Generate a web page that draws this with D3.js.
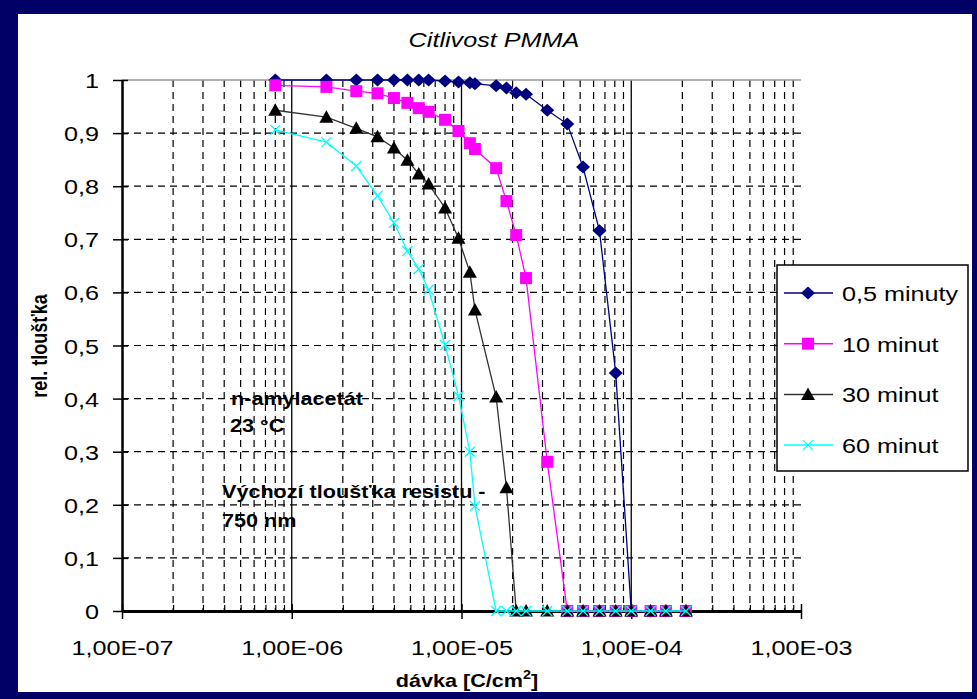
<html>
<head>
<script src="https://cdnjs.cloudflare.com/ajax/libs/d3/7.8.5/d3.min.js"></script>
<style>
    body { margin: 0; background: #000066; }
    svg text { font-family: "Liberation Sans", Arial, sans-serif; fill: #000; }
    .grid line { stroke: #000; stroke-width: 1.2; stroke-dasharray: 7,5; }
    .decade line { stroke: #000; stroke-width: 1.3; }
</style>
</head>
<body>
<svg id="chart" width="977" height="699"></svg>
<script>
// doses [C/cm2], shared by all four series
var doses = [8e-7, 1.6e-6, 2.4e-6, 3.2e-6, 4e-6, 4.8e-6, 5.6e-6, 6.4e-6, 8e-6, 9.6e-6,
             1.12e-5, 1.2e-5, 1.6e-5, 1.84e-5, 2.1e-5, 2.4e-5, 3.2e-5, 4.2e-5, 5.2e-5, 6.5e-5,
             8.1e-5, 1e-4, 1.3e-4, 1.6e-4, 2.1e-4];
var min05 = [1, 1, 1, 1, 1, 1, 1, 1, 0.998, 0.996, 0.995, 0.993, 0.989, 0.985, 0.976, 0.973,
             0.943, 0.917, 0.836, 0.716, 0.448, 0, 0, 0, 0];
var min10 = [0.99, 0.987, 0.979, 0.975, 0.966, 0.957, 0.947, 0.94, 0.925, 0.904, 0.881, 0.87,
             0.834, 0.772, 0.708, 0.627, 0.281, 0, 0, 0, 0, 0, 0, 0, 0];
var min30 = [0.943, 0.93, 0.909, 0.893, 0.872, 0.849, 0.823, 0.804, 0.759, 0.702, 0.638, 0.567,
             0.403, 0.232, 0, 0, 0, 0, 0, 0, 0, 0, 0, 0, 0];
var min60 = [0.906, 0.883, 0.838, 0.782, 0.731, 0.678, 0.644, 0.605, 0.501, 0.405, 0.3, 0.198,
             0, 0, 0, 0, 0, 0, 0, 0, 0, 0, 0, 0, 0];

var seriesNames = ["0,5 minuty", "10 minut", "30 minut", "60 minut"];
var xTicks = [1e-7, 1e-6, 1e-5, 1e-4, 1e-3];
var xTickLabels = ["1,00E-07", "1,00E-06", "1,00E-05", "1,00E-04", "1,00E-03"];
var yTicks = [0, 0.1, 0.2, 0.3, 0.4, 0.5, 0.6, 0.7, 0.8, 0.9, 1];
var yTickLabels = ["0", "0,1", "0,2", "0,3", "0,4", "0,5", "0,6", "0,7", "0,8", "0,9", "1"];

var svg = d3.select("#chart");
var sx = 1.2; // picture is stretched sideways

svg.append("rect").attr("width", 977).attr("height", 699).attr("fill", "#000066");
svg.append("rect").attr("x", 18).attr("y", 14).attr("width", 954).attr("height", 678).attr("fill", "#fff");

var x = d3.scaleLog().domain([1e-7, 1e-3]).range([122, 801]);
var y = d3.scaleLinear().domain([0, 1]).range([611, 80]);

var minor = [];
[-7, -6, -5, -4].forEach(function(e) {
    for (var m = 2; m <= 9; m++) minor.push(m * Math.pow(10, e));
});

// gridlines
svg.append("g").attr("class", "grid")
    .selectAll("line").data(minor).enter().append("line")
    .attr("x1", d => x(d)).attr("x2", d => x(d))
    .attr("y1", y(1)).attr("y2", y(0));
svg.append("g").attr("class", "grid")
    .selectAll("line").data(yTicks.slice(1, 10)).enter().append("line")
    .attr("x1", x(1e-7)).attr("x2", x(1e-3))
    .attr("y1", d => y(d)).attr("y2", d => y(d));
svg.append("g").attr("class", "decade")
    .selectAll("line").data([1e-6, 1e-5, 1e-4]).enter().append("line")
    .attr("x1", d => x(d)).attr("x2", d => x(d))
    .attr("y1", y(1)).attr("y2", y(0));
svg.append("line").attr("x1", x(1e-7)).attr("x2", x(1e-3))
    .attr("y1", y(1)).attr("y2", y(1)).attr("stroke", "#999").attr("stroke-width", 1.5);

// y axis
var yAxis = svg.append("g").attr("transform", "translate(122,0)")
    .call(d3.axisLeft(y).tickValues(yTicks).tickFormat((d, i) => yTickLabels[i]).tickSize(9).tickSizeOuter(0));
yAxis.select(".domain").attr("stroke-width", 2.5);
yAxis.selectAll(".tick line").attr("x1", 6).attr("stroke-width", 1.5);
yAxis.selectAll(".tick text").attr("x", 0).attr("dy", "0.36em")
    .attr("transform", "translate(-23,0) scale(" + sx + ",1)")
    .style("font-size", "21px");

// x axis
var xAxis = svg.append("g").attr("transform", "translate(0,611)")
    .call(d3.axisBottom(x).tickValues(xTicks).tickFormat((d, i) => xTickLabels[i]).tickSize(8).tickSizeOuter(0));
xAxis.select(".domain").attr("stroke-width", 3);
xAxis.selectAll(".tick line").attr("y1", -7).attr("stroke-width", 1.5);
xAxis.selectAll(".tick text").attr("y", 0).attr("dy", 0)
    .attr("transform", "translate(0,44) scale(" + sx + ",1)")
    .style("font-size", "21px");
var xMinor = svg.append("g").attr("transform", "translate(0,611)")
    .call(d3.axisTop(x).tickValues(minor).tickFormat("").tickSize(6).tickSizeOuter(0));
xMinor.select(".domain").remove();
xMinor.selectAll(".tick line").attr("stroke-width", 1.2);

// series
var markers = [
    "M0,-6.5L7,0L0,6.5L-7,0Z",
    "M-6,-6H6V6H-6Z",
    "M0,-7L7,5.5L-7,5.5Z",
    "M-5,-5L5,5M-5,5L5,-5"
];
var series = [
    {name: seriesNames[0], values: min05, line: "#000080", fill: "#000080", marker: markers[0]},
    {name: seriesNames[1], values: min10, line: "#ff00ff", fill: "#ff00ff", marker: markers[1]},
    {name: seriesNames[2], values: min30, line: "#333333", fill: "#000000", marker: markers[2]},
    {name: seriesNames[3], values: min60, line: "#00ffff", fill: "none", marker: markers[3]}
];

var line = d3.line().x(d => x(d[0])).y(d => y(d[1]));

series.forEach(function(s) {
    var pts = doses.map((d, i) => [d, s.values[i]]);
    var g = svg.append("g");
    g.append("path").attr("d", line(pts))
        .attr("fill", "none").attr("stroke", s.line).attr("stroke-width", 1.3);
    g.selectAll("path.pt").data(pts).enter().append("path").attr("class", "pt")
        .attr("d", s.marker)
        .attr("transform", d => "translate(" + x(d[0]) + "," + y(d[1]) + ")")
        .attr("fill", s.fill)
        .attr("stroke", s.fill === "none" ? s.line : "none")
        .attr("stroke-width", 1.3);
});

// title and axis titles
svg.append("text").attr("text-anchor", "middle")
    .attr("transform", "translate(494,47) scale(" + sx + ",1)")
    .style("font-size", "21px").style("font-style", "italic")
    .text("Citlivost PMMA");

svg.append("text").attr("text-anchor", "middle")
    .attr("transform", "translate(467,687) scale(" + sx + ",1)")
    .style("font-size", "18px").style("font-weight", "bold")
    .text("dávka [C/cm")
    .append("tspan").attr("dy", -8).style("font-size", "12px").text("2")
    .select(function() { return this.parentNode; })
    .append("tspan").attr("dy", 8).text("]");

svg.append("text").attr("text-anchor", "middle")
    .attr("transform", "translate(47,346) rotate(-90) scale(1," + sx + ")")
    .style("font-size", "18px").style("font-weight", "bold")
    .text("rel. tloušťka");

// notes inside plot
var notes = [
    {t: "n-amylacetát", x: 231, y: 405},
    {t: "23 °C", x: 230, y: 432},
    {t: "Výchozí tloušťka resistu -", x: 222, y: 498},
    {t: "750 nm", x: 222, y: 527}
];
svg.append("g").selectAll("text").data(notes).enter().append("text")
    .attr("transform", d => "translate(" + d.x + "," + d.y + ") scale(" + sx + ",1)")
    .style("font-size", "18px").style("font-weight", "bold")
    .text(d => d.t);

// legend
var lg = svg.append("g");
lg.append("rect").attr("x", 777).attr("y", 265).attr("width", 191).attr("height", 206)
    .attr("fill", "#fff").attr("stroke", "#000").attr("stroke-width", 1.5);
series.forEach(function(s, i) {
    var ly = 293 + i * 50.7;
    lg.append("line").attr("x1", 784).attr("x2", 833).attr("y1", ly).attr("y2", ly)
        .attr("stroke", s.line).attr("stroke-width", 1.5);
    lg.append("path").attr("d", s.marker)
        .attr("transform", "translate(808," + ly + ")")
        .attr("fill", s.fill)
        .attr("stroke", s.fill === "none" ? s.line : "none").attr("stroke-width", 1.3);
    lg.append("text")
        .attr("transform", "translate(842," + (ly + 8) + ") scale(" + sx + ",1)")
        .style("font-size", "21px")
        .text(s.name);
});
</script>
</body>
</html>
